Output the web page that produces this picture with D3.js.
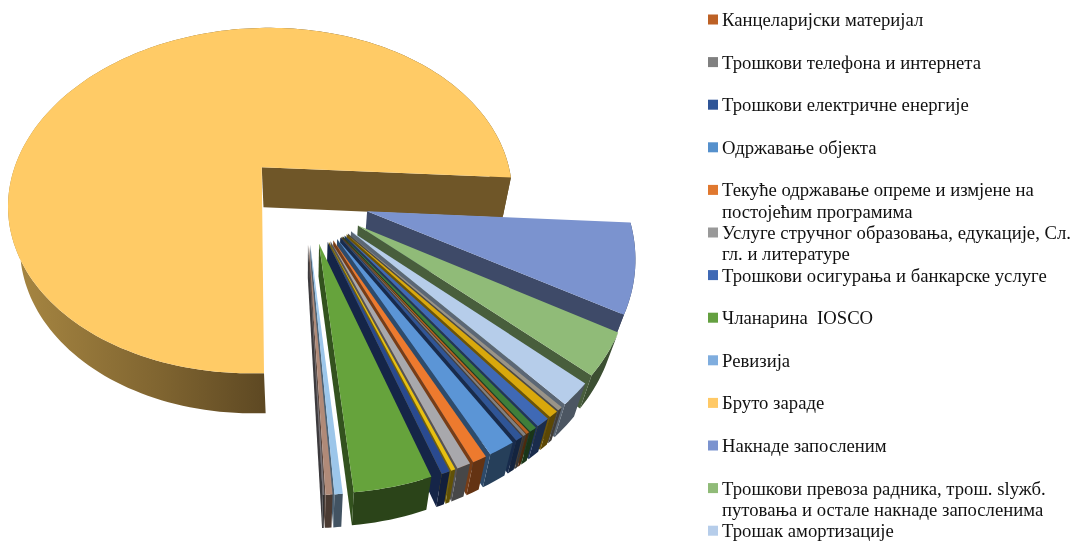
<!DOCTYPE html>
<html><head><meta charset="utf-8">
<script src="https://cdn.jsdelivr.net/npm/d3@7"></script>
<style>
html,body{margin:0;padding:0;background:#fff;overflow:hidden}
svg{display:block;filter:blur(0.5px)}
text{font-family:"Liberation Serif","Times New Roman",serif;font-size:18.7px;fill:#111;white-space:pre}
</style></head><body>
<svg id="c" width="1075" height="541"></svg>
<script>
// Slices, clockwise, starting right after the end of the large slice
const sliceNames = ["Накнаде запосленим","Трошкови превоза радника","Трошак амортизације","(сиво)","(жуто)","(плаво)","(зелено)",
  "Канцеларијски материјал","Трошкови телефона и интернета","Трошкови електричне енергије","Одржавање објекта","Текуће одржавање опреме",
  "Услуге стручног образовања","(жуто 2)","Трошкови осигурања и банкарске услуге","Чланарина IOSCO","Ревизија","(смеђе)","(сиво 2)","Бруто зараде"];
const sliceValues = [7.5,3.47,1.81,0.28,0.53,0.72,0.39,0.17,0.17,0.39,1.36,0.72,0.69,0.22,0.42,3.81,0.39,0.33,0.08,76.88];
const sliceColors = ["#7b93cf","#90bb78","#b6cdea","#9a9488","#d9a80c","#3f69b5","#3f7f3a","#b85f22","#808080","#2f5597","#5b95d6","#ed7a2e",
  "#a8a8ac","#e8c010","#2a4a90","#66a33c","#9cc6ea","#b08a78","#77747a","#ffcb66"];
const legendLines = [["Канцеларијски материјал"],["Трошкови телефона и интернета"],["Трошкови електричне енергије"],["Одржавање објекта"],
  ["Текуће одржавање опреме и измјене на","постојећим програмима"],["Услуге стручног образовања, едукације, Сл.","гл. и литературе"],
  ["Трошкови осигурања и банкарске услуге"],["Чланарина  IOSCO"],["Ревизија"],["Бруто зараде"],["Накнаде запосленим"],
  ["Трошкови превоза радника, трош. slужб.","путовања и остале накнаде запосленима"],["Трошак амортизације"]];
const legendColors = ["#bd6125","#808080","#2f5597","#5590cc","#e0782f","#999999","#3f69b5","#64a040","#7fadde","#ffc966","#7b93cf","#90bb78","#b6cdea"];

const deg = Math.PI/180, EXPLODE = .25, PERSP = .2, SHRINK = .96;
const sx = d3.scaleLinear().domain([0,1]).range([305,561]);
const sy = d3.scaleLinear().domain([0,1]).range([198,376.4]);
const svg = d3.select("#c");
const line = d3.line().x(d=>d[0]).y(d=>d[1]);

function proj(X,Z){const w=1-PERSP*Z; return [sx(X/w), sy(Z/w)];}
function drop(p,d){return [sx.range()[0]+(p[0]-sx.range()[0])*SHRINK, p[1]+d];}

const defs = svg.append("defs");
const g1 = defs.append("linearGradient").attr("id","rimBig").attr("gradientUnits","userSpaceOnUse")
  .attr("x1",30).attr("x2",270).attr("y1",0).attr("y2",0);
g1.append("stop").attr("offset",0).attr("stop-color","#a38340");
g1.append("stop").attr("offset",.55).attr("stop-color","#7f6430");
g1.append("stop").attr("offset",1).attr("stop-color","#5c4722");

const arcs = d3.pie().sort(null).value((d,i)=>sliceValues[i]).startAngle(93.5*deg).endAngle(453.5*deg)(sliceNames);

function drawSlice(a,i){
  const big = i===sliceNames.length-1;
  const D = big?40:33;
  const mid=(a.startAngle+a.endAngle)/2;
  const ax=EXPLODE*Math.sin(mid), az=-EXPLODE*Math.cos(mid);
  const pt=t=>proj(ax+Math.sin(t), az-Math.cos(t));
  const n=Math.max(2,Math.ceil((a.endAngle-a.startAngle)/(deg*1.5)));
  const rim=d3.range(n+1).map(k=>pt(a.startAngle+(a.endAngle-a.startAngle)*k/n));
  const apex=proj(ax,az);
  const col=d3.rgb(sliceColors[i]);
  const dark=k=>d3.rgb(col.r*k,col.g*k,col.b*k).formatRgb();
  const g=svg.append("g").attr("class","slice");
  // outer rim
  const rimBack=rim.map(p=>drop(p,D)).reverse();
  g.append("path").attr("d",line(rim.concat(rimBack))+"Z").attr("fill",big?"url(#rimBig)":dark(.42));
  // radial wall on the clockwise end of the slice
  const end=rim[rim.length-1];
  const wall=[apex,end,drop(end,D),drop(apex,D)];
  g.append("path").attr("d",line(wall)+"Z").attr("fill",big?"#6f5628":dark(.5));
  // top face
  g.append("path").attr("d",line([apex].concat(rim))+"Z").attr("fill",sliceColors[i]);
}
// back to front: the large slice first, then the small ones in order
drawSlice(arcs[arcs.length-1],arcs.length-1);
arcs.slice(0,-1).forEach((a,i)=>drawSlice(a,i));

// legend
const ly=d3.scaleLinear().domain([0,1]).range([26,68.6]);
const leg=svg.append("g").selectAll("g").data(legendLines).join("g")
  .attr("transform",(d,i)=>`translate(0,${ly(i)})`);
leg.append("rect").attr("x",708).attr("y",-11.5).attr("width",10).attr("height",10).attr("fill",(d,i)=>legendColors[i]);
leg.selectAll("text").data(d=>d).join("text").attr("x",722).attr("y",(d,i)=>i*21.3).text(d=>d);
</script>
</body></html>
